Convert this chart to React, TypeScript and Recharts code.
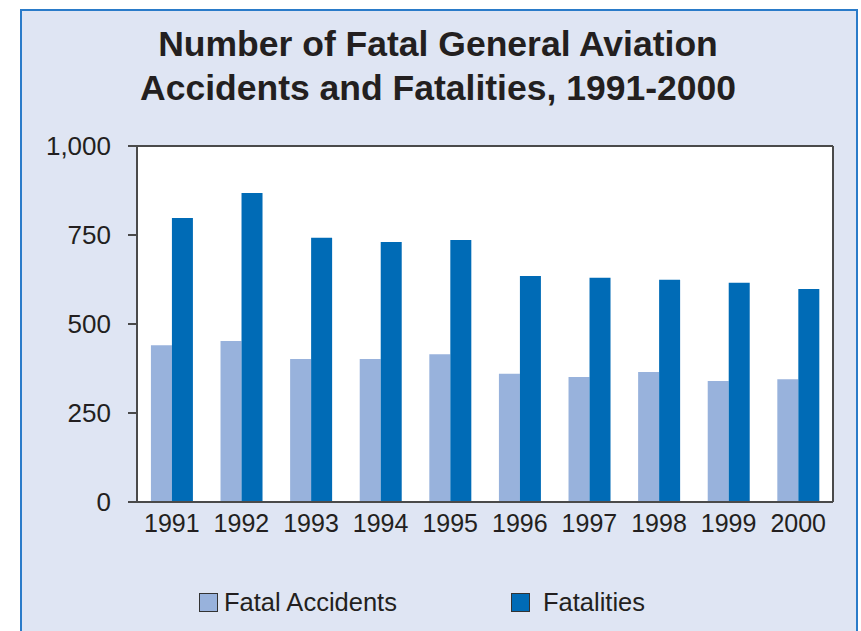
import React from 'react';
import { BarChart, Bar, XAxis, YAxis, CartesianGrid } from 'recharts';

// values
const years = ['1991', '1992', '1993', '1994', '1995', '1996', '1997', '1998', '1999', '2000'];
const fatalAccidents = [440, 452, 402, 402, 415, 360, 351, 365, 340, 345];
const fatalities = [798, 868, 742, 730, 736, 635, 630, 624, 616, 598];
const yTicks = [0, 250, 500, 750, 1000];

const series = [
  { key: 'accidents', name: 'Fatal Accidents', color: '#98b2dc' },
  { key: 'fatalities', name: 'Fatalities', color: '#006bb6' },
];

const data = years.map((year, i) => ({
  year,
  accidents: fatalAccidents[i],
  fatalities: fatalities[i],
}));

const FONT = '"Liberation Sans", Arial, Helvetica, sans-serif';
const AXIS = '#4a4a4a';
const TEXT = '#231f20';

export default function App() {
  return (
    <div
      style={{
        position: 'absolute',
        left: 0,
        top: 0,
        width: 861,
        height: 631,
        overflow: 'hidden',
        background: '#fff',
        fontFamily: FONT,
      }}
    >
      {/* panel */}
      <div
        style={{
          position: 'absolute',
          left: 20,
          top: 9,
          width: 838,
          height: 700,
          boxSizing: 'border-box',
          border: '2px solid #2a7bc9',
          background: '#dfe5f3',
        }}
      />

      {/* title */}
      <div
        style={{
          position: 'absolute',
          left: 20,
          top: 22,
          width: 836,
          textAlign: 'center',
          fontSize: 35.5,
          lineHeight: '44px',
          fontWeight: 'bold',
          color: TEXT,
        }}
      >
        Number of Fatal General Aviation
        <br />
        Accidents and Fatalities, 1991-2000
      </div>

      <div style={{ position: 'absolute', left: 0, top: 0 }}>
        <BarChart
          width={861}
          height={631}
          data={data}
          margin={{ top: 146, right: 28, bottom: 0, left: 0 }}
          barCategoryGap="20%"
          barGap={0}
        >
          {/* white plot area with a frame on top and right */}
          <CartesianGrid
            fill="#ffffff"
            stroke={AXIS}
            strokeWidth={2}
            horizontalCoordinatesGenerator={({ offset }: any) => [offset.top]}
            verticalCoordinatesGenerator={({ offset }: any) => [offset.left + offset.width]}
          />
          <XAxis
            dataKey="year"
            height={129}
            axisLine={{ stroke: AXIS, strokeWidth: 2 }}
            tickLine={false}
            tickSize={0}
            tickMargin={12}
            interval={0}
            tick={{ fill: TEXT, fontSize: 25, fontFamily: FONT }}
          />
          <YAxis
            width={137}
            domain={[0, 1000]}
            ticks={yTicks}
            interval={0}
            axisLine={{ stroke: AXIS, strokeWidth: 2 }}
            tickLine={{ stroke: AXIS, strokeWidth: 2 }}
            tickSize={9}
            tickMargin={17}
            tickFormatter={(v: number) => v.toLocaleString('en-US')}
            tick={{ fill: TEXT, fontSize: 26, fontFamily: FONT }}
          />
          {series.map((s) => (
            <Bar
              key={s.key}
              dataKey={s.key}
              name={s.name}
              fill={s.color}
              isAnimationActive={false}
            />
          ))}
        </BarChart>
      </div>

      {/* legend */}
      {series.map((s, i) => (
        <div
          key={s.key}
          style={{
            position: 'absolute',
            left: i === 0 ? 199 : 511,
            top: 588,
            height: 28,
            display: 'flex',
            alignItems: 'center',
            fontSize: 25.5,
            color: TEXT,
          }}
        >
          <span
            style={{
              display: 'inline-block',
              width: 19,
              height: 19,
              boxSizing: 'border-box',
              border: '1.5px solid #333',
              background: s.color,
              marginRight: i === 0 ? 6 : 13,
            }}
          />
          {s.name}
        </div>
      ))}
    </div>
  );
}
